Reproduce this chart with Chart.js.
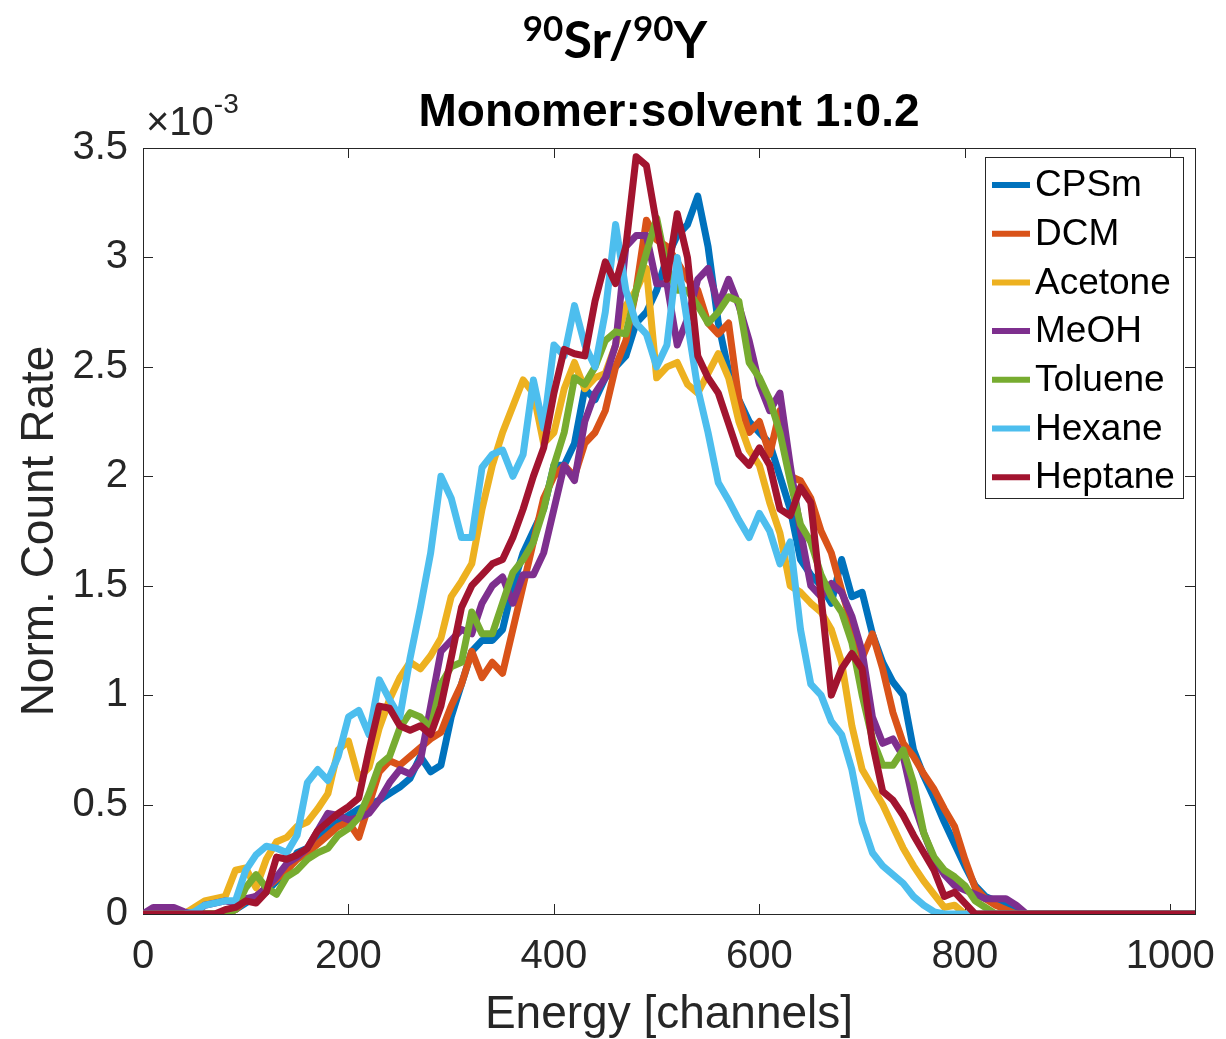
<!DOCTYPE html>
<html>
<head>
<meta charset="utf-8">
<script src="https://cdn.jsdelivr.net/npm/chart.js@4"></script>
<style>
  html, body { margin: 0; padding: 0; background: #fff; }
  canvas { display: block; }
</style>
</head>
<body>
<canvas id="myChart" width="1226" height="1039"></canvas>
<script>
// energy channels (step 10 up to 860, then the end of the axis)
const channels = [];
for (let c = 0; c <= 860; c += 10) channels.push(c);
channels.push(1024);

// normalised count rate, in units of 1e-3
const cpsm = [
  0, 0, 0, 0, 0, 0, 0, 0, 0, 0.02,
  0.05, 0.08, 0.1, 0.15, 0.2, 0.28, 0.3, 0.35, 0.38, 0.42,
  0.45, 0.48, 0.5, 0.52, 0.55, 0.58, 0.62, 0.72, 0.65, 0.68,
  0.9, 1.05, 1.2, 1.25, 1.25, 1.3, 1.5, 1.65, 1.75, 1.85,
  2.05, 2.05, 2.15, 2.4, 2.35, 2.45, 2.5, 2.55, 2.7, 2.75,
  2.85, 3.0, 3.1, 3.15, 3.28, 3.05, 2.7, 2.48, 2.35, 2.25,
  2.2, 2.15, 2.0, 1.85, 1.62, 1.55, 1.5, 1.42, 1.62, 1.45,
  1.47, 1.28, 1.15, 1.06, 1.0, 0.75, 0.63, 0.53, 0.42, 0.32,
  0.22, 0.13, 0.08, 0.06, 0.04, 0.02, 0,
  0
];
const dcm = [
  0, 0, 0, 0, 0, 0, 0, 0, 0, 0.02,
  0.06, 0.08, 0.12, 0.16, 0.2, 0.25, 0.28, 0.32, 0.36, 0.4,
  0.42, 0.35, 0.5, 0.65, 0.7, 0.68, 0.72, 0.76, 0.8, 0.83,
  0.95, 1.05, 1.2, 1.08, 1.15, 1.1, 1.3, 1.5, 1.7, 1.9,
  2.0, 2.05, 2.0, 2.15, 2.2, 2.3, 2.5, 2.62, 2.85, 3.17,
  3.08, 3.05, 2.98, 2.9, 2.85, 2.7, 2.65, 2.7, 2.35, 2.2,
  2.25, 2.1, 2.3, 2.0, 1.98, 1.9, 1.75, 1.65, 1.48, 1.32,
  1.17, 1.28, 1.12, 0.92, 0.78, 0.72, 0.64, 0.57, 0.48, 0.4,
  0.25, 0.12, 0.07, 0.04, 0.02, 0, 0,
  0
];
const acetone = [
  0, 0, 0, 0, 0, 0.03, 0.06, 0.07, 0.08, 0.2,
  0.21, 0.12, 0.25, 0.33, 0.35, 0.4, 0.42, 0.48, 0.55, 0.75,
  0.79, 0.62, 0.67, 0.85, 0.98, 1.08, 1.15, 1.12, 1.18, 1.26,
  1.45, 1.52, 1.6, 1.85, 2.05, 2.2, 2.32, 2.44, 2.38, 2.15,
  2.2, 2.4, 2.52, 2.4, 2.45, 2.47, 2.6, 2.78, 2.85, 2.95,
  2.45, 2.5, 2.52, 2.42, 2.38, 2.47, 2.56, 2.45, 2.25, 2.12,
  2.05, 1.88, 1.74, 1.5, 1.47, 1.42, 1.38, 1.3, 1.15, 0.86,
  0.66, 0.58, 0.5, 0.4, 0.3, 0.22, 0.15, 0.09, 0.03, 0.04,
  0, 0, 0, 0, 0, 0, 0,
  0
];
const meoh = [
  0, 0.03, 0.03, 0.03, 0.01, 0, 0.04, 0.05, 0.06, 0.05,
  0.07, 0.08, 0.12, 0.17, 0.23, 0.26, 0.3, 0.38, 0.46, 0.45,
  0.43, 0.44, 0.46, 0.52, 0.6, 0.66, 0.64, 0.7, 0.95, 1.2,
  1.25, 1.3, 1.28, 1.42, 1.5, 1.54, 1.42, 1.55, 1.55, 1.65,
  1.85, 2.05, 1.98, 2.25, 2.38, 2.45, 2.6, 3.05, 3.1, 3.1,
  2.88, 2.88, 2.6, 2.72, 2.9, 2.95, 2.78, 2.9, 2.78, 2.62,
  2.42, 2.3, 2.38, 2.05, 1.75, 1.5, 1.45, 1.51, 1.47, 1.36,
  1.2, 0.9, 0.78, 0.8, 0.72, 0.51, 0.37, 0.25, 0.18, 0.13,
  0.11, 0.09, 0.07, 0.07, 0.07, 0.04, 0,
  0
];
const toluene = [
  0, 0, 0, 0, 0, 0, 0, 0, 0, 0.02,
  0.12, 0.18, 0.12, 0.09, 0.17, 0.2, 0.25, 0.28, 0.3, 0.36,
  0.39, 0.44, 0.55, 0.68, 0.72, 0.85, 0.92, 0.9, 0.85, 1.05,
  1.13, 1.15, 1.38, 1.28, 1.28, 1.42, 1.56, 1.62, 1.7, 1.85,
  2.05, 2.2, 2.45, 2.42, 2.5, 2.62, 2.66, 2.65, 2.85, 3.02,
  3.18, 2.95, 2.85, 2.85, 2.78, 2.7, 2.75, 2.82, 2.8, 2.52,
  2.45, 2.35, 2.2, 1.98, 1.78, 1.7, 1.55, 1.45, 1.38, 1.24,
  1.0, 0.8, 0.68, 0.68, 0.75, 0.6, 0.37, 0.26, 0.2, 0.17,
  0.13, 0.06, 0.03, 0, 0, 0, 0,
  0
];
const hexane = [
  0, 0, 0, 0, 0, 0.01, 0.04, 0.05, 0.06, 0.06,
  0.2, 0.27, 0.31, 0.3, 0.28, 0.36, 0.6, 0.66, 0.61, 0.72,
  0.9, 0.93, 0.82, 1.07, 0.98, 0.9, 1.17, 1.4, 1.65, 2.0,
  1.9, 1.72, 1.72, 2.04, 2.1, 2.12, 2.0, 2.1, 2.44, 2.22,
  2.6, 2.55, 2.78, 2.6, 2.5, 2.75, 3.15, 2.85, 2.7, 2.65,
  2.5, 2.6, 3.0, 2.7, 2.4, 2.2, 1.97, 1.89, 1.8, 1.72,
  1.83, 1.75, 1.6, 1.7, 1.3, 1.05, 1.0, 0.88, 0.82, 0.66,
  0.42, 0.28, 0.22, 0.18, 0.14, 0.08, 0.04, 0.01, 0, 0,
  0, 0, 0, 0, 0, 0, 0,
  0
];
const heptane = [
  0, 0, 0, 0, 0, 0, 0, 0, 0.02, 0.03,
  0.06, 0.05, 0.1, 0.26, 0.25, 0.27, 0.3, 0.38, 0.42, 0.46,
  0.49, 0.53, 0.75, 0.95, 0.94, 0.86, 0.84, 0.86, 0.82, 0.95,
  1.17, 1.4, 1.5, 1.55, 1.6, 1.62, 1.72, 1.85, 2.0, 2.13,
  2.38, 2.58, 2.56, 2.55, 2.8, 2.98, 2.88, 3.05, 3.46, 3.42,
  3.15, 2.9, 3.2, 3.0, 2.55, 2.45, 2.38, 2.24, 2.1, 2.05,
  2.13, 2.05, 1.85, 1.82, 1.95, 1.88, 1.45, 1.0, 1.12, 1.19,
  1.12, 0.78, 0.56, 0.52, 0.45, 0.36, 0.28, 0.2, 0.08, 0.1,
  0.05, 0, 0, 0, 0, 0, 0,
  0
];

const names = ["CPSm", "DCM", "Acetone", "MeOH", "Toluene", "Hexane", "Heptane"];
const series = [cpsm, dcm, acetone, meoh, toluene, hexane, heptane];
const colors = ["#0072BD", "#D95319", "#EDB120", "#7E2F8E", "#77AC30", "#4DBEEE", "#A2142F"];
const xTicks = [0, 200, 400, 600, 800, 1000];

const TXT = "#262626";
const SANS = '"Liberation Sans", Arial, Helvetica, sans-serif';

// box, inward ticks, legend, titles (MATLAB look)
const matlabLook = {
  id: "matlabLook",
  beforeDraw(chart) {
    const ctx = chart.ctx;
    ctx.save();
    ctx.fillStyle = "#fff";
    ctx.fillRect(0, 0, chart.width, chart.height);
    ctx.restore();
  },
  beforeDatasetsDraw(chart) {
    const { ctx, chartArea: a, scales } = chart;
    ctx.save();
    ctx.strokeStyle = TXT;
    ctx.lineWidth = 1;
    ctx.strokeRect(a.left + 0.5, a.top + 0.5, a.right - a.left, a.bottom - a.top);
    ctx.beginPath();
    scales.x.ticks.forEach(t => {
      const px = Math.round(scales.x.getPixelForValue(t.value)) + 0.5;
      ctx.moveTo(px, a.bottom); ctx.lineTo(px, a.bottom - 10);
      ctx.moveTo(px, a.top); ctx.lineTo(px, a.top + 10);
    });
    scales.y.ticks.forEach(t => {
      const py = Math.round(scales.y.getPixelForValue(t.value)) + 0.5;
      ctx.moveTo(a.left, py); ctx.lineTo(a.left + 10, py);
      ctx.moveTo(a.right, py); ctx.lineTo(a.right - 10, py);
    });
    ctx.stroke();
    ctx.restore();
  },
  afterDraw(chart) {
    const { ctx, chartArea: a } = chart;
    ctx.save();

    // legend
    const lx = 985, ly = 157, lw = 198, lh = 341;
    ctx.fillStyle = "#fff";
    ctx.fillRect(lx, ly, lw, lh);
    ctx.strokeStyle = TXT;
    ctx.lineWidth = 1;
    ctx.strokeRect(lx + 0.5, ly + 0.5, lw, lh);
    ctx.font = "37px " + SANS;
    ctx.textBaseline = "middle";
    ctx.textAlign = "left";
    chart.data.datasets.forEach((ds, i) => {
      const y = 185 + i * 48.7;
      ctx.strokeStyle = ds.borderColor;
      ctx.lineWidth = 6;
      ctx.beginPath();
      ctx.moveTo(992, y); ctx.lineTo(1030, y);
      ctx.stroke();
      ctx.fillStyle = "#000";
      ctx.fillText(ds.label, 1035, y + 1);
    });

    // exponent label
    ctx.fillStyle = TXT;
    ctx.textBaseline = "alphabetic";
    ctx.font = "40px " + SANS;
    ctx.fillText("\u00d710", 146, 135);
    const w10 = ctx.measureText("\u00d710").width;
    ctx.font = "28px " + SANS;
    ctx.fillText("-3", 146 + w10, 113);

    // subtitle
    ctx.fillStyle = "#000";
    ctx.font = "bold 46px " + SANS;
    ctx.textAlign = "center";
    ctx.fillText("Monomer:solvent 1:0.2", (a.left + a.right) / 2, 126);

    // main title with superscripts
    const TF = '"Lato", "Open Sans", ' + SANS;
    const parts = [
      { t: "90", sup: true }, { t: "Sr/", sup: false },
      { t: "90", sup: true }, { t: "Y", sup: false }
    ];
    const big = "bold 52px " + TF, small = "bold 35px " + TF;
    let total = 0;
    parts.forEach(p => { ctx.font = p.sup ? small : big; p.w = ctx.measureText(p.t).width; total += p.w; });
    let x = 615 - total / 2;
    ctx.textAlign = "left";
    parts.forEach(p => {
      ctx.font = p.sup ? small : big;
      ctx.fillText(p.t, x, p.sup ? 41 : 58);
      x += p.w;
    });
    ctx.restore();
  }
};

const datasets = names.map((name, i) => ({
  label: name,
  data: channels.map((c, k) => ({ x: c, y: series[i][k] })),
  borderColor: colors[i],
  backgroundColor: colors[i],
  borderWidth: 7,
  pointRadius: 0,
  tension: 0,
  borderJoinStyle: "round",
  borderCapStyle: "round",
  order: names.length - i,
}));

const noPad = (s) => { s.paddingLeft = 0; s.paddingRight = 0; s.paddingTop = 0; s.paddingBottom = 0; };

const config = {
  type: "line",
  data: { datasets: datasets },
  options: {
    responsive: false,
    animation: false,
    devicePixelRatio: 1,
    layout: { padding: { top: 148, right: 31, left: 0, bottom: 0 } },
    plugins: {
      legend: { display: false },
      title: { display: false },
      tooltip: { enabled: false },
    },
    scales: {
      x: {
        type: "linear",
        min: 0,
        max: 1024,
        border: { display: false },
        grid: { display: false, drawTicks: false },
        afterBuildTicks: (s) => { s.ticks = xTicks.map(v => ({ value: v })); },
        ticks: {
          color: TXT,
          font: { family: SANS, size: 40 },
          padding: 19,
          maxRotation: 0,
          autoSkip: false,
          callback: (v) => String(v),
        },
        title: {
          display: true,
          text: "Energy [channels]",
          color: TXT,
          font: { family: SANS, size: 46, lineHeight: 1.0 },
          padding: { top: 0, bottom: 1 },
        },
        afterFit: (s) => { s.height = 125; noPad(s); },
      },
      y: {
        min: 0,
        max: 3.5,
        border: { display: false },
        grid: { display: false, drawTicks: false },
        ticks: {
          stepSize: 0.5,
          color: TXT,
          font: { family: SANS, size: 40 },
          padding: 15,
          callback: (v) => String(v),
        },
        title: {
          display: true,
          text: "Norm. Count Rate",
          color: TXT,
          font: { family: SANS, size: 46, lineHeight: 1.0 },
          padding: { top: 17, bottom: 0 },
        },
        afterFit: (s) => { s.width = 143; noPad(s); },
      },
    },
  },
  plugins: [matlabLook],
};

const ctx = document.getElementById("myChart").getContext("2d");
new Chart(ctx, config);
</script>
</body>
</html>
